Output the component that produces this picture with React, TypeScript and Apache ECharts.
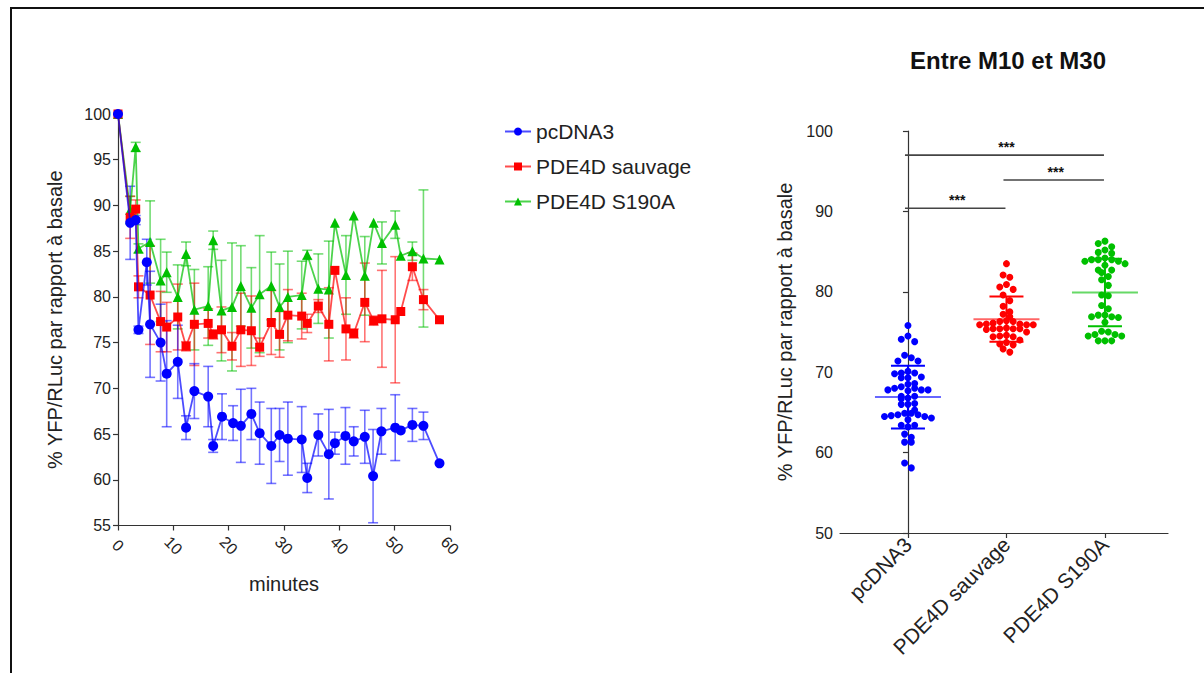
import React, { useEffect, useRef } from "react";
import * as echarts from "echarts";

// ---------- Left chart: time course ----------
const seriesNames = ["pcDNA3", "PDE4D sauvage", "PDE4D S190A"];

const blueTime = [0, 2.2, 3.2, 3.7, 5.2, 5.8, 7.7, 8.8, 10.8, 12.3, 13.8, 16.3, 17.2, 18.8, 20.8, 22.2, 24.1, 25.6, 27.7, 29.2, 30.7, 33.2, 34.2, 36.2, 38.1, 39.2, 41.1, 42.6, 44.6, 46.1, 47.6, 50.1, 51.1, 53.2, 55.2, 58.1];
const blueValue = [100, 88.1, 88.4, 76.4, 83.8, 77.0, 75.0, 71.6, 72.9, 65.7, 69.7, 69.1, 63.7, 66.9, 66.2, 65.9, 67.2, 65.1, 63.7, 64.9, 64.5, 64.4, 60.2, 64.9, 62.8, 64.0, 64.8, 64.2, 64.7, 60.4, 65.3, 65.7, 65.4, 66.0, 65.9, 61.8];
const blueErr = [0, 4.0, 0.5, 0.4, 2.5, 5.8, 4.2, 5.8, 4.0, 1.3, 3.0, 3.3, 0.7, 2.5, 1.9, 4.0, 2.8, 3.4, 4.1, 2.9, 4.0, 3.6, 1.6, 2.3, 4.9, 1.2, 3.1, 1.6, 2.9, 5.1, 2.5, 3.6, 0, 1.8, 1.5, 0];

const redTime = [0, 2.2, 3.2, 3.7, 5.8, 7.7, 8.8, 10.8, 12.3, 13.8, 16.3, 17.2, 18.7, 20.6, 22.2, 24.1, 25.6, 27.7, 29.2, 30.7, 33.2, 34.2, 36.2, 38.1, 39.2, 41.2, 42.6, 44.6, 46.2, 47.7, 50.1, 51.1, 53.2, 55.2, 58.1];
const redValue = [100, 88.7, 89.6, 81.1, 80.2, 77.3, 76.7, 77.8, 74.6, 77.0, 77.1, 75.9, 76.4, 74.6, 76.4, 76.3, 74.5, 77.2, 75.9, 78.0, 77.9, 77.1, 79.0, 77.0, 82.9, 76.5, 76.0, 79.4, 77.4, 77.6, 77.5, 78.4, 83.3, 79.7, 77.5];
const redErr = [0, 2.3, 1.0, 1.2, 5.4, 3.3, 2.7, 3.6, 0.5, 4.5, 1.6, 0.5, 2.5, 1.5, 4.0, 3.8, 1.0, 3.5, 2.5, 2.8, 2.5, 1.0, 0.7, 4.0, 0, 3.4, 0.5, 4.3, 0.5, 5.3, 6.9, 0, 1.5, 1.1, 0];

const greenTime = [0, 2.2, 3.2, 3.7, 5.8, 7.7, 8.8, 10.8, 12.3, 13.8, 16.3, 17.2, 18.7, 20.6, 22.2, 24.1, 25.6, 27.7, 29.2, 30.7, 33.2, 34.2, 36.2, 38.1, 39.2, 41.2, 42.6, 44.6, 46.2, 47.7, 50.1, 51.1, 53.2, 55.2, 58.1];
const greenValue = [100, 89.5, 96.4, 85.3, 86.0, 81.8, 82.7, 80.0, 84.7, 78.6, 79.0, 86.2, 78.5, 78.9, 81.2, 78.8, 80.3, 81.2, 78.9, 80.0, 80.2, 84.6, 80.9, 80.8, 88.1, 82.4, 88.9, 82.3, 88.1, 85.9, 87.9, 84.5, 85.0, 84.2, 84.1];
const greenErr = [0, 1.5, 0.5, 0.5, 4.5, 4.5, 2.2, 3.5, 1.3, 4.4, 4.3, 1.0, 5.5, 7.0, 4.4, 4.4, 6.4, 3.7, 4.7, 5.0, 3.7, 0.5, 3.8, 5.3, 0, 4.3, 0, 4.3, 0, 2.3, 1.5, 0, 1.0, 7.5, 0];

// ---------- Right chart: scatter dot plot ----------
const groupCategories = ["pcDNA3", "PDE4D sauvage", "PDE4D S190A"];
const blueDots = [75.8, 74.1, 73.8, 74.5, 71.8, 71.4, 71.4, 72.1, 70.1, 69.9, 69.8, 69.9, 69.3, 69.3, 69.4, 68.5, 68.6, 68.0, 67.8, 67.8, 67.7, 67.8, 68.0, 68.2, 67.0, 66.7, 66.8, 67.0, 66.0, 66.1, 66.0, 65.3, 64.9, 64.7, 64.5, 64.1, 64.3, 64.5, 64.6, 64.7, 64.9, 63.4, 63.2, 63.4, 62.3, 61.9, 61.3, 61.3, 58.1, 58.7];
const redDots = [83.5, 81.8, 82.1, 80.9, 80.3, 80.6, 79.6, 78.9, 78.2, 77.5, 77.2, 76.9, 76.4, 76.1, 75.9, 75.9, 75.9, 76.0, 76.0, 76.3, 76.3, 75.4, 75.4, 75.0, 75.3, 75.4, 75.4, 75.5, 74.4, 74.0, 74.4, 74.6, 74.5, 73.4, 73.5, 73.7, 72.5, 72.9];
const greenDots = [86.3, 86.0, 85.6, 85.2, 84.9, 84.8, 84.2, 84.0, 83.5, 83.8, 84.0, 83.8, 84.0, 83.3, 82.7, 82.7, 82.4, 81.9, 81.5, 80.8, 79.6, 79.5, 78.3, 77.9, 77.1, 76.9, 76.8, 76.9, 77.1, 76.2, 75.1, 74.7, 75.0, 74.7, 73.9, 73.9, 73.9, 74.5, 74.5];
const groupMean = [66.9, 76.6, 79.9];
const groupSd = [3.9, 2.8, 4.2];

const sigFrom = [0, 1, 0];
const sigTo = [2, 2, 1];
const sigLevel = [97.0, 93.9, 90.4];
const sigLabel = ["***", "***", "***"];

const COLORS = ["#0000ff", "#ff0000", "#00c000"];
const FONT = '"Liberation Sans", Arial, sans-serif';

// layout constants
const W = 1204;
const H = 673;
const RG = { left: 840, right: 36, top: 131, bottom: 140 };
const RY_MIN = 50;
const RY_MAX = 100;
const DOT = 7;

// Prism-like scatter layout: group close values into rows, spread each row symmetrically
function rowOffsets(values: number[], pxPerUnit: number, d: number): number[] {
  const order = values.map((_, i) => i).sort((a, b) => values[b] - values[a]);
  const out = new Array(values.length).fill(0);
  let row: number[] = [];
  let rowTop: number | null = null;
  const flush = () => {
    const n = row.length;
    const slots = Array.from({ length: n }, (_, k) => (k - (n - 1) / 2) * d).sort(
      (a, b) => Math.abs(a) - Math.abs(b) || a - b
    );
    row.forEach((idx, k) => {
      out[idx] = slots[k];
    });
    row = [];
  };
  for (const i of order) {
    const y = values[i] * pxPerUnit;
    if (rowTop === null || rowTop - y > d * 0.9) {
      flush();
      rowTop = y;
    }
    row.push(i);
  }
  flush();
  return out;
}

function zip3(a: number[], b: number[], c: number[]) {
  return a.map((v, i) => [v, b[i], c[i]]);
}

export default function App() {
  const ref = useRef<HTMLDivElement>(null);

  useEffect(() => {
    document.body.style.margin = "0";
    if (!ref.current) return;
    const chart = echarts.init(ref.current, undefined, { renderer: "svg" });

    const pxPerUnit = (H - RG.top - RG.bottom) / (RY_MAX - RY_MIN);
    const dotGroups = [blueDots, redDots, greenDots];

    const errRender = (color: string) => (params: any, api: any) => {
      const t = api.value(0);
      const v = api.value(1);
      const e = api.value(2);
      if (!e) return null;
      const top = api.coord([t, v + e]);
      const bot = api.coord([t, v - e]);
      const hw = 5;
      const st = { stroke: color, lineWidth: 1.6, opacity: 0.55 };
      return {
        type: "group",
        children: [
          { type: "line", shape: { x1: top[0], y1: top[1], x2: bot[0], y2: bot[1] }, style: st },
          { type: "line", shape: { x1: top[0] - hw, y1: top[1], x2: top[0] + hw, y2: top[1] }, style: st },
          { type: "line", shape: { x1: bot[0] - hw, y1: bot[1], x2: bot[0] + hw, y2: bot[1] }, style: st },
        ],
      };
    };

    const lineData = [
      { t: blueTime, v: blueValue, e: blueErr, symbol: "circle", size: 10 },
      { t: redTime, v: redValue, e: redErr, symbol: "rect", size: 9 },
      { t: greenTime, v: greenValue, e: greenErr, symbol: "triangle", size: 10 },
    ];

    const leftSeries: any[] = [];
    [2, 1, 0].forEach((gi, order) => {
      const d = lineData[gi];
      leftSeries.push({
        name: "err-" + seriesNames[gi],
        type: "custom",
        xAxisIndex: 0,
        yAxisIndex: 0,
        z: 2 + order,
        renderItem: errRender(COLORS[gi]),
        encode: { x: 0, y: 1 },
        data: zip3(d.t, d.v, d.e),
      });
      leftSeries.push({
        name: seriesNames[gi],
        type: "line",
        xAxisIndex: 0,
        yAxisIndex: 0,
        z: 5 + order,
        symbol: d.symbol,
        symbolSize: d.size,
        itemStyle: { color: COLORS[gi] },
        lineStyle: { color: COLORS[gi], width: 1.8, opacity: 0.7 },
        data: d.t.map((t, i) => [t, d.v[i]]),
      });
    });

    const dotSeries = dotGroups.map((vals, gi) => {
      const offs = rowOffsets(vals, pxPerUnit, DOT - 0.3);
      return {
        name: "dots-" + groupCategories[gi],
        type: "scatter",
        xAxisIndex: 1,
        yAxisIndex: 1,
        symbol: "circle",
        symbolSize: DOT,
        itemStyle: { color: COLORS[gi], opacity: 1 },
        z: 3,
        data: vals.map((v, i) => ({ value: [gi, v], symbolOffset: [offs[i], 0] })),
      };
    });

    const statSeries = {
      name: "stats",
      type: "custom",
      xAxisIndex: 1,
      yAxisIndex: 1,
      z: 4,
      encode: { x: 0, y: 1 },
      data: groupMean.map((m, i) => [i, m, groupSd[i]]),
      renderItem: (params: any, api: any) => {
        const g = api.value(0);
        const m = api.value(1);
        const s = api.value(2);
        const color = COLORS[g];
        const pm = api.coord([g, m]);
        const pu = api.coord([g, m + s]);
        const pl = api.coord([g, m - s]);
        const mw = 33;
        const sw = 17;
        const st = { stroke: color, lineWidth: 2 };
        return {
          type: "group",
          children: [
            { type: "line", shape: { x1: pm[0] - mw, y1: pm[1], x2: pm[0] + mw, y2: pm[1] }, style: { stroke: color, lineWidth: 2, opacity: 0.6 } },
            { type: "line", shape: { x1: pu[0], y1: pu[1], x2: pl[0], y2: pl[1] }, style: st },
            { type: "line", shape: { x1: pu[0] - sw, y1: pu[1], x2: pu[0] + sw, y2: pu[1] }, style: st },
            { type: "line", shape: { x1: pl[0] - sw, y1: pl[1], x2: pl[0] + sw, y2: pl[1] }, style: st },
          ],
        };
      },
    };

    const sigSeries = {
      name: "sig",
      type: "custom",
      xAxisIndex: 1,
      yAxisIndex: 1,
      z: 4,
      encode: { x: 0, y: 2 },
      data: sigFrom.map((f, i) => [f, sigTo[i], sigLevel[i], i]),
      renderItem: (params: any, api: any) => {
        const f = api.value(0);
        const t = api.value(1);
        const y = api.value(2);
        const idx = api.value(3);
        const a = api.coord([f, y]);
        const b = api.coord([t, y]);
        return {
          type: "group",
          children: [
            { type: "line", shape: { x1: a[0] - 3, y1: a[1], x2: b[0] - 1, y2: b[1] }, style: { stroke: "#444", lineWidth: 1.6 } },
            {
              type: "text",
              style: {
                text: sigLabel[idx],
                x: (a[0] + b[0]) / 2,
                y: a[1] - 8,
                textAlign: "center",
                textVerticalAlign: "middle",
                font: "bold 14px " + FONT,
                fill: "#111",
              },
            },
          ],
        };
      },
    };

    const axisLineStyle = { color: "#333", width: 1.2 };
    const labelStyle = { color: "#222", fontSize: 16, fontFamily: FONT };
    const nameStyle = { color: "#222", fontSize: 20, fontFamily: FONT };
    const yName = "% YFP/RLuc par rapport à basale";

    const option: any = {
      animation: false,
      textStyle: { fontFamily: FONT },
      graphic: [
        {
          type: "rect",
          silent: true,
          shape: { x: 11, y: 8, width: 1260, height: 720 },
          style: { fill: "none", stroke: "#111", lineWidth: 2 },
        },
        {
          type: "text",
          x: 1008,
          y: 60,
          style: {
            text: "Entre M10 et M30",
            font: "bold 24px " + FONT,
            textAlign: "center",
            textVerticalAlign: "middle",
            fill: "#111",
          },
        },
      ],
      legend: {
        orient: "vertical",
        left: 499,
        top: 116,
        itemWidth: 26,
        itemHeight: 10,
        itemGap: 14,
        data: seriesNames,
        textStyle: { color: "#222", fontSize: 21, fontFamily: FONT },
      },
      grid: [
        { left: 118, right: W - 450, top: 114, bottom: H - 525.5 },
        { left: RG.left, right: RG.right, top: RG.top, bottom: RG.bottom },
      ],
      xAxis: [
        {
          type: "value",
          gridIndex: 0,
          min: 0,
          max: 60,
          interval: 10,
          name: "minutes",
          nameLocation: "middle",
          nameGap: 48,
          nameTextStyle: nameStyle,
          axisLine: { show: true, lineStyle: axisLineStyle },
          axisTick: { show: true, inside: false, length: 5, lineStyle: axisLineStyle },
          axisLabel: { ...labelStyle, rotate: -45, align: "center", verticalAlign: "middle", margin: 20 },
          splitLine: { show: false },
        },
        {
          type: "value",
          gridIndex: 1,
          min: -0.69,
          max: 2.64,
          axisLine: { show: true, lineStyle: axisLineStyle },
          axisTick: { show: true, length: 5, lineStyle: axisLineStyle, customValues: [0, 1, 2] },
          axisLabel: {
            ...labelStyle,
            fontSize: 21,
            rotate: 45,
            margin: 8,
            customValues: [0, 1, 2],
            formatter: (v: number) => groupCategories[Math.round(v)] || "",
          },
          splitLine: { show: false },
        },
      ],
      yAxis: [
        {
          type: "value",
          gridIndex: 0,
          min: 55,
          max: 100,
          interval: 5,
          name: yName,
          nameLocation: "middle",
          nameGap: 53,
          nameTextStyle: nameStyle,
          axisLine: { show: true, lineStyle: axisLineStyle },
          axisTick: { show: true, length: 5, lineStyle: axisLineStyle },
          axisLabel: { ...labelStyle, margin: 7 },
          splitLine: { show: false },
        },
        {
          type: "value",
          gridIndex: 1,
          min: RY_MIN,
          max: RY_MAX,
          interval: 10,
          name: yName,
          nameLocation: "middle",
          nameGap: 45,
          nameTextStyle: nameStyle,
          axisLine: { show: true, lineStyle: axisLineStyle },
          axisTick: { show: true, length: 5, lineStyle: axisLineStyle },
          axisLabel: { ...labelStyle, margin: 7 },
          splitLine: { show: false },
        },
      ],
      series: [...leftSeries, ...dotSeries, statSeries, sigSeries],
    };

    chart.setOption(option);
    return () => chart.dispose();
  }, []);

  return <div ref={ref} style={{ width: W, height: H }} />;
}
